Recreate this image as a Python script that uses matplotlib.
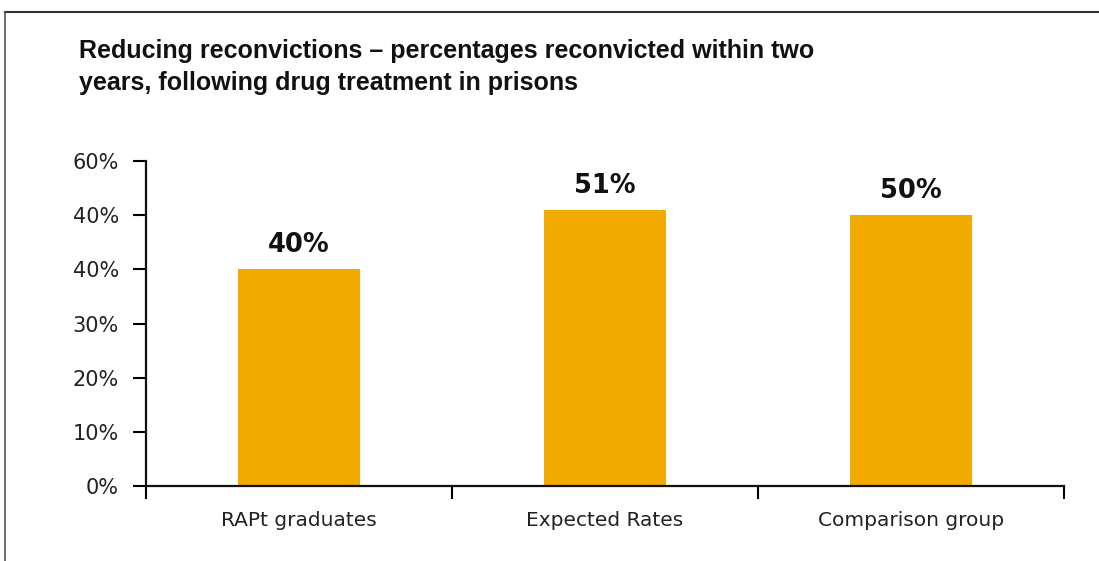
import matplotlib.pyplot as plt
from matplotlib.lines import Line2D

# chart data
categories = ["RAPt graduates", "Expected Rates", "Comparison group"]
reconvicted = [40, 51, 50]
value_labels = ["40%", "51%", "50%"]
y_ticks = [0, 10, 20, 30, 40, 50, 60]
y_tick_labels = ["0%", "10%", "20%", "30%", "40%", "40%", "60%"]

title = ("Reducing reconvictions \u2013 percentages reconvicted within two\n"
         "years, following drug treatment in prisons")

fig = plt.figure(figsize=(10.99, 5.61), dpi=100)
ax = fig.add_axes([146 / 1099, 1 - 486 / 561, (1064 - 146) / 1099, (486 - 161) / 561])

x = list(range(len(categories)))
ax.bar(x, reconvicted, width=0.4, color="#F0AA00", zorder=2)

for xi, v, lab in zip(x, reconvicted, value_labels):
    ax.annotate(lab, (xi, v), xytext=(0, 8), textcoords="offset points",
                ha="center", va="bottom", fontsize=18.5, fontweight="bold",
                family="DejaVu Sans", color="#111111")

ax.set_xlim(-0.5, len(categories) - 0.5)
ax.set_ylim(0, 60)
ax.set_yticks(y_ticks)
ax.set_yticklabels(y_tick_labels)

# category boundary ticks, labels sit on minor ticks at bar centres
ax.set_xticks([i - 0.5 for i in range(len(categories) + 1)])
ax.set_xticklabels([])
ax.set_xticks(x, minor=True)
ax.set_xticklabels(categories, minor=True)

ax.tick_params(axis="x", which="major", length=9, width=1.5, direction="out")
ax.tick_params(axis="x", which="minor", length=0, pad=18, labelsize=14.5)
ax.tick_params(axis="y", length=9.5, width=1.5, direction="out", labelsize=15, pad=10)
for lab in ax.get_xticklabels(minor=True) + ax.get_yticklabels():
    lab.set_color("#222222")

for side in ["top", "right"]:
    ax.spines[side].set_visible(False)
for side in ["left", "bottom"]:
    ax.spines[side].set_linewidth(1.6)
    ax.spines[side].set_color("#111111")

fig.text(79 / 1099, 1 - 39 / 561, title, ha="left", va="top",
         fontsize=18, fontweight="bold", stretch="condensed",
         family=["Liberation Sans", "DejaVu Sans"],
         linespacing=1.42, color="#111111")

# outer frame: top and left edges only
fig.add_artist(Line2D([5 / 1099, 1], [1 - 12 / 561, 1 - 12 / 561],
                      transform=fig.transFigure, color="#333333", lw=1.5))
fig.add_artist(Line2D([5 / 1099, 5 / 1099], [0, 1 - 12 / 561],
                      transform=fig.transFigure, color="#555555", lw=1.2))

fig.savefig("out.png", dpi=100)
